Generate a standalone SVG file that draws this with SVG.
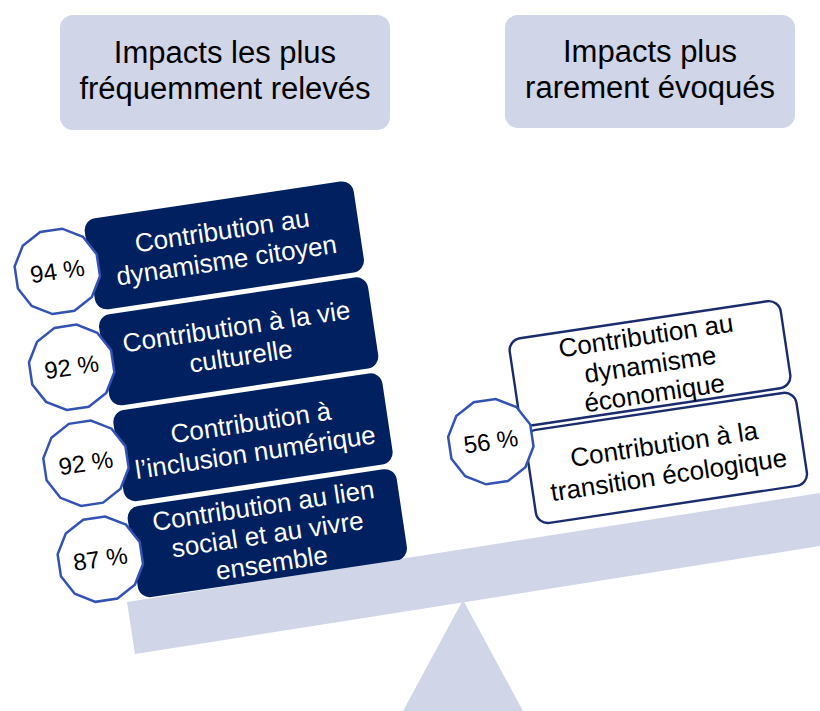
<svg xmlns="http://www.w3.org/2000/svg" xmlns:xlink="http://www.w3.org/1999/xlink" width="820" height="711" viewBox="0 0 820 711">
<style>
.hdr{fill:#d0d5e8}
.scale{fill:#d0d5e8}
.dark{fill:#002060}
.light{fill:#ffffff;stroke:#1a2c6e;stroke-width:2.4}
.poly{fill:#ffffff;stroke:#3452b4;stroke-width:2.5}
text{font-family:"Liberation Sans",Arial,sans-serif;text-anchor:middle}
.ht{font-size:31px;fill:#000000}
.wt{font-size:26px;fill:#ffffff}
.bt{font-size:26px;fill:#000000}
.pt{font-size:24px;fill:#000000}
</style>
<defs>
<polygon id="dodec" class="poly" points="41.5,11.1 30.4,30.4 11.1,41.5 -11.1,41.5 -30.4,30.4 -41.5,11.1 -41.5,-11.1 -30.4,-30.4 -11.1,-41.5 11.1,-41.5 30.4,-30.4 41.5,-11.1"/>
</defs>

<g id="headers">
<g id="header-left">
<rect class="hdr" x="60" y="15" width="330" height="115" rx="13"/>
<text class="ht" x="225" y="63">Impacts les plus</text>
<text class="ht" x="225" y="99">fréquemment relevés</text>
</g>
<g id="header-right">
<rect class="hdr" x="505" y="15" width="290" height="113" rx="13"/>
<text class="ht" x="650" y="62">Impacts plus</text>
<text class="ht" x="650" y="98">rarement évoqués</text>
</g>
</g>

<g id="balance">
<polygon class="scale" points="463,600 403,711 523,711"/>
<polygon class="scale" points="127,602 820,493 820,546 135,654"/>
</g>

<g id="left-stack" transform="translate(83,220) rotate(-8.5)">
<g id="box-citoyen">
<rect class="dark" x="0" y="0" width="272" height="92" rx="12"/>
<text class="wt" x="136" y="40">Contribution au</text>
<text class="wt" x="136" y="70">dynamisme citoyen</text>
<use xlink:href="#dodec" x="-33" y="47"/>
<text class="pt" x="-33" y="55">94 %</text>
</g>
<g id="box-culture">
<rect class="dark" x="0" y="97" width="272" height="92" rx="12"/>
<text class="wt" x="136" y="137">Contribution à la vie</text>
<text class="wt" x="136" y="167">culturelle</text>
<use xlink:href="#dodec" x="-33" y="144"/>
<text class="pt" x="-33" y="152">92 %</text>
</g>
<g id="box-numerique">
<rect class="dark" x="0" y="194" width="272" height="92" rx="12"/>
<text class="wt" x="136" y="234">Contribution à</text>
<text class="wt" x="136" y="264">l’inclusion numérique</text>
<use xlink:href="#dodec" x="-33" y="241"/>
<text class="pt" x="-33" y="249">92 %</text>
</g>
<g id="box-lien">
<rect class="dark" x="0" y="291" width="272" height="92" rx="12"/>
<text class="wt" x="136" y="318">Contribution au lien</text>
<text class="wt" x="136" y="347">social et au vivre</text>
<text class="wt" x="136" y="376">ensemble</text>
<use xlink:href="#dodec" x="-33" y="338"/>
<text class="pt" x="-33" y="346">87 %</text>
</g>
</g>

<g id="right-stack" transform="translate(508,340) rotate(-8.5)">
<g id="box-economique">
<rect class="light" x="0" y="0" width="274" height="88" rx="12"/>
<text class="bt" x="137" y="25">Contribution au</text>
<text class="bt" x="137" y="54">dynamisme</text>
<text class="bt" x="137" y="83">économique</text>
</g>
<g id="box-ecologique">
<rect class="light" x="2" y="93" width="274" height="94" rx="12"/>
<text class="bt" x="139" y="135">Contribution à la</text>
<text class="bt" x="139" y="166">transition écologique</text>
</g>
<g id="pct-56">
<use xlink:href="#dodec" x="-32" y="98"/>
<text class="pt" x="-32" y="106">56 %</text>
</g>
</g>
</svg>
